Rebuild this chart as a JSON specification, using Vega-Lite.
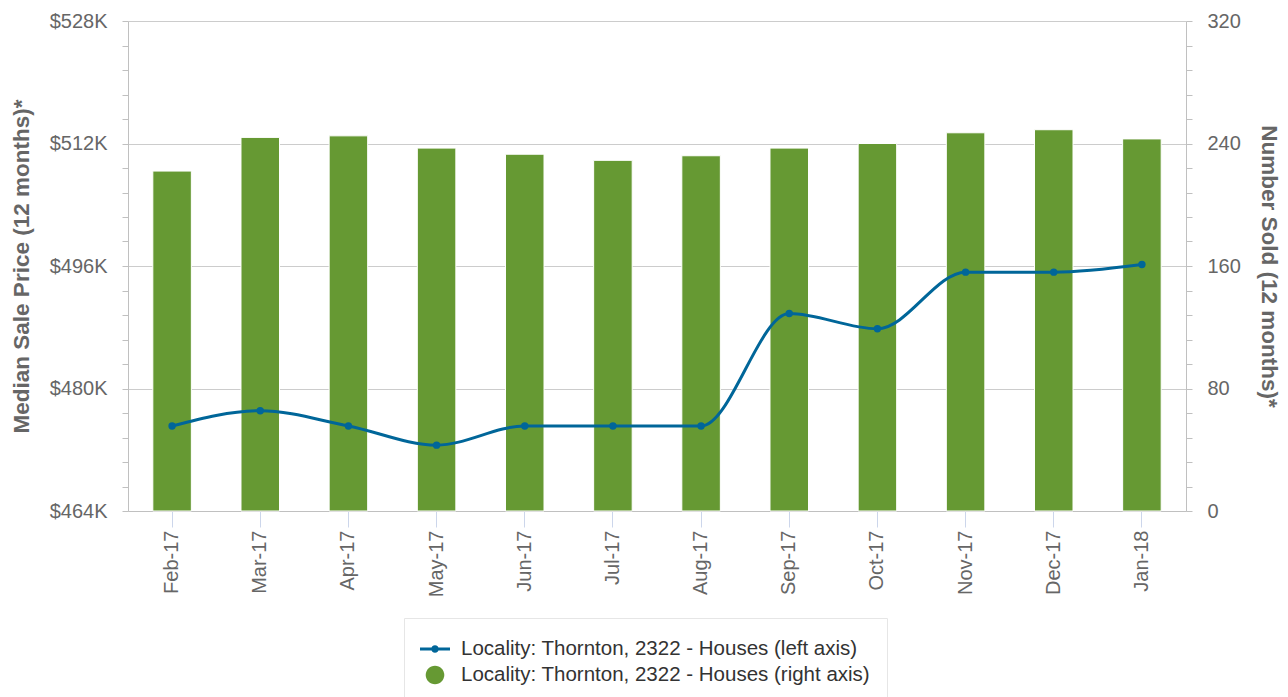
{
  "$schema": "https://vega.github.io/schema/vega-lite/v6.json",
  "width": 1058,
  "height": 490,
  "autosize": "none",
  "padding": {"left": 128, "top": 21, "right": 102, "bottom": 186},
  "background": "white",
  "config": {"font": "Liberation Sans", "view": {"stroke": null}},
  "data": {
    "values": [
      {"month": "Feb-17", "price": 475100, "sold": 222},
      {"month": "Mar-17", "price": 477100, "sold": 244},
      {"month": "Apr-17", "price": 475100, "sold": 245},
      {"month": "May-17", "price": 472600, "sold": 237},
      {"month": "Jun-17", "price": 475100, "sold": 233},
      {"month": "Jul-17", "price": 475100, "sold": 229},
      {"month": "Aug-17", "price": 475100, "sold": 232},
      {"month": "Sep-17", "price": 489800, "sold": 237},
      {"month": "Oct-17", "price": 487800, "sold": 240},
      {"month": "Nov-17", "price": 495200, "sold": 247},
      {"month": "Dec-17", "price": 495200, "sold": 249},
      {"month": "Jan-18", "price": 496200, "sold": 243}
    ]
  },
  "encoding": {
    "x": {
      "field": "month",
      "type": "ordinal",
      "sort": null,
      "scale": {"type": "band", "paddingInner": 0.563, "paddingOuter": 0.2815},
      "axis": {
        "title": null,
        "labelAngle": -90,
        "labelFontSize": 20,
        "labelColor": "#666666",
        "labelPadding": 3,
        "tickSize": 16,
        "tickColor": "#ccd6eb",
        "domainColor": "#c0c0c0",
        "grid": false
      }
    }
  },
  "layer": [
    {
      "mark": {"type": "bar", "stroke": "white", "strokeWidth": 1},
      "encoding": {
        "y": {
          "field": "sold",
          "type": "quantitative",
          "scale": {"domain": [0, 320], "nice": false},
          "axis": {
            "orient": "right",
            "title": "Number Sold (12 months)*",
            "values": [0, 16, 32, 48, 64, 80, 96, 112, 128, 144, 160, 176, 192, 208, 224, 240, 256, 272, 288, 304, 320],
            "labelExpr": "datum.value % 80 === 0 ? format(datum.value, 'd') : ''",
            "labelOverlap": false,
            "grid": false,
            "tickSize": 6,
            "tickColor": "#c0c0c0",
            "domainColor": "#c0c0c0",
            "labelFontSize": 20,
            "labelColor": "#666666",
            "labelPadding": 15,
            "titleFontSize": 22.5,
            "titleFontWeight": "bold",
            "titleColor": "#666666",
            "titlePadding": 16
          }
        },
        "color": {
          "datum": "Locality: Thornton, 2322 - Houses (right axis)",
          "scale": {
            "domain": ["Locality: Thornton, 2322 - Houses (left axis)", "Locality: Thornton, 2322 - Houses (right axis)"],
            "range": ["#006699", "#669933"]
          },
          "legend": {
            "title": null,
            "orient": "none",
            "legendX": 276,
            "legendY": 597,
            "direction": "vertical",
            "padding": 16,
            "strokeColor": "#e6e6e6",
            "fillColor": "white",
            "labelFontSize": 20.5,
            "labelColor": "#333333",
            "labelLimit": 700,
            "labelOffset": 11,
            "symbolSize": 900,
            "symbolStrokeWidth": 0,
            "symbolOpacity": 1,
            "symbolType": {"expr": "datum.value === 'Locality: Thornton, 2322 - Houses (left axis)' ? 'M-1,-0.1L1,-0.1L1,0.1L-1,0.1Z M-0.25,0A0.25,0.25 0 1,1 0.25,0A0.25,0.25 0 1,1 -0.25,0Z' : 'M-0.62,0A0.62,0.62 0 1,1 0.62,0A0.62,0.62 0 1,1 -0.62,0Z'"},
            "rowPadding": -9
          }
        }
      }
    },
    {
      "mark": {"type": "line", "color": "#006699", "interpolate": "monotone", "strokeWidth": 3, "point": {"filled": true, "size": 55, "color": "#006699"}},
      "encoding": {
        "y": {
          "field": "price",
          "type": "quantitative",
          "scale": {"domain": [464000, 528000], "nice": false, "zero": false},
          "axis": {
            "orient": "left",
            "title": "Median Sale Price (12 months)*",
            "values": [464000, 467200, 470400, 473600, 476800, 480000, 483200, 486400, 489600, 492800, 496000, 499200, 502400, 505600, 508800, 512000, 515200, 518400, 521600, 524800, 528000],
            "labelExpr": "datum.value % 16000 === 0 ? '$' + format(datum.value / 1000, 'd') + 'K' : ''",
            "labelOverlap": false,
            "grid": true,
            "gridColor": "#cccccc",
            "gridOpacity": {"condition": {"test": "datum.value % 16000 === 0", "value": 1}, "value": 0},
            "tickSize": 6,
            "tickColor": "#c0c0c0",
            "domainColor": "#c0c0c0",
            "labelFontSize": 20,
            "labelColor": "#666666",
            "labelPadding": 15,
            "titleFontSize": 22.5,
            "titleFontWeight": "bold",
            "titleColor": "#666666",
            "titlePadding": 16
          }
        }
      }
    }
  ],
  "resolve": {"scale": {"y": "independent"}}
}
